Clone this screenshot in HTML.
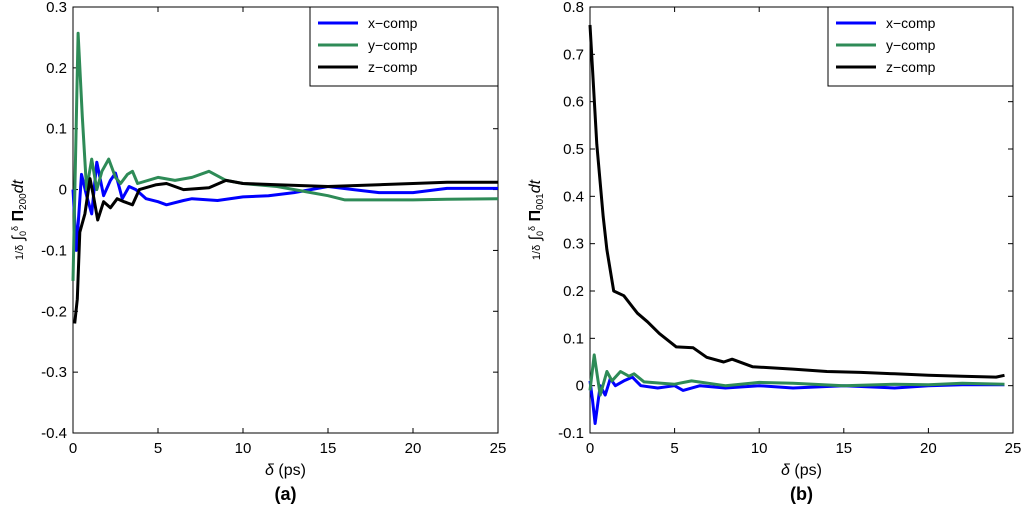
<!DOCTYPE html>
<html><head><meta charset="utf-8"><style>
body{margin:0;background:#fff;}
svg text{font-family:"Liberation Sans",sans-serif;}
</style></head><body>
<svg id="chart" width="1024" height="520" xmlns="http://www.w3.org/2000/svg"></svg>
<script>
const xTicks=[0,5,10,15,20,25];
const yTicksA=[-0.4,-0.3,-0.2,-0.1,0,0.1,0.2,0.3];
const yTicksB=[-0.1,0,0.1,0.2,0.3,0.4,0.5,0.6,0.7,0.8];
const seriesNames=["x\u2212comp","y\u2212comp","z\u2212comp"];
const colors=["#0000ff","#2e8b57","#000000"];
const aXx=[0,0.2,0.5,0.8,1.1,1.4,1.8,2.2,2.5,2.9,3.3,3.7,4.3,5,5.5,6.5,7,8.5,10,11.5,13,15,16.5,18,20,22,25];
const aXy=[0,-0.1,0.025,-0.01,-0.04,0.045,-0.01,0.015,0.027,-0.015,0.005,0,-0.015,-0.02,-0.025,-0.018,-0.015,-0.018,-0.012,-0.01,-0.005,0.005,0,-0.005,-0.005,0.002,0.002];
const aYx=[0,0.3,0.55,0.8,1.1,1.4,1.7,2.1,2.5,2.8,3.2,3.5,3.8,5,6,7,8,9,10,12,14,15,16,18,20,22,25];
const aYy=[-0.15,0.257,0.12,0,0.05,0,0.03,0.05,0.02,0.01,0.025,0.03,0.01,0.02,0.015,0.02,0.03,0.015,0.01,0.005,-0.005,-0.01,-0.017,-0.017,-0.017,-0.016,-0.015];
const aZx=[0.1,0.25,0.4,0.7,1.0,1.2,1.45,1.8,2.2,2.6,3,3.5,3.9,4.9,5.5,6.5,8,9,10,12,15,18,20,22,25];
const aZy=[-0.22,-0.18,-0.07,-0.04,0.018,-0.01,-0.05,-0.02,-0.03,-0.015,-0.02,-0.025,0,0.008,0.01,0,0.003,0.015,0.01,0.008,0.005,0.008,0.01,0.012,0.012];
const bXx=[0,0.15,0.3,0.6,0.9,1.2,1.5,2,2.5,3,4,5,5.5,6.5,8,10,12,15,18,20,22,24.5];
const bXy=[0.01,-0.03,-0.08,0,-0.02,0.015,0,0.01,0.018,0,-0.005,0,-0.01,0,-0.005,0,-0.005,0,-0.005,0,0.002,0.002];
const bYx=[0,0.25,0.6,1.0,1.3,1.8,2.3,2.6,3.2,5,6,8,10,12,15,18,20,22,24.5];
const bYy=[-0.01,0.065,-0.02,0.03,0.01,0.03,0.02,0.025,0.008,0.003,0.01,0,0.007,0.005,0,0.003,0.002,0.005,0.003];
const bZx=[0,0.4,0.78,1.0,1.4,2.0,2.8,3.4,4.1,5.1,6.1,6.9,7.9,8.4,9.6,12,14,16,18,20,22,24,24.5];
const bZy=[0.762,0.51,0.357,0.287,0.2,0.19,0.153,0.135,0.11,0.082,0.08,0.06,0.05,0.056,0.04,0.035,0.03,0.028,0.025,0.022,0.02,0.018,0.022];

const NS="http://www.w3.org/2000/svg";
const svg=document.getElementById('chart');
function el(t,a,p){const e=document.createElementNS(NS,t);for(const k in a)e.setAttribute(k,a[k]);(p||svg).appendChild(e);return e;}
function panel(id,x0,x1,yTop,yBot,ymin,ymax,yTicks,series,sub,lx,lbl){
  const g=el('g',{});
  
  
  const sx=v=>x0+(v-0)/25*(x1-x0);
  const sy=v=>yBot-(v-ymin)/(ymax-ymin)*(yBot-yTop);
  const fr=el('rect',{x:x0,y:yTop,width:x1-x0,height:yBot-yTop,fill:'#fff',stroke:'#000','stroke-width':1},g);
  
  
  xTicks.forEach(t=>{const X=sx(t);
    el('line',{x1:X,x2:X,y1:yBot,y2:yBot-5,stroke:'#000'},g);
    el('line',{x1:X,x2:X,y1:yTop,y2:yTop+5,stroke:'#000'},g);
    const tx=el('text',{x:X,y:yBot+20,'font-size':15,'text-anchor':'middle'},g);tx.textContent=t;
    
    });
  yTicks.forEach(t=>{const Y=sy(t);
    el('line',{x1:x0,x2:x0+5,y1:Y,y2:Y,stroke:'#000'},g);
    el('line',{x1:x1,x2:x1-5,y1:Y,y2:Y,stroke:'#000'},g);
    const tx=el('text',{x:x0-6,y:Y+5,'font-size':15,'text-anchor':'end'},g);tx.textContent=(Math.round(t*10)/10).toString();
    
    });
  series.forEach((s,i)=>{
    const d=s[0].map((v,j)=>(j?'L':'M')+sx(v).toFixed(1)+' '+sy(s[1][j]).toFixed(1)).join(' ');
    const p=el('path',{d:d,fill:'none',stroke:colors[i],'stroke-width':3,'stroke-linejoin':'round'},g);
    
    
  });
  const lg=el('g',{},g);
  
  
  el('rect',{x:lx,y:yTop,width:x1-lx,height:79,fill:'#fff',stroke:'#000'},lg);
  seriesNames.forEach((n,i)=>{const Y=yTop+16+i*22;
    el('line',{x1:lx+8,x2:lx+48,y1:Y,y2:Y,stroke:colors[i],'stroke-width':3},lg);
    const t=el('text',{x:lx+58,y:Y+5,'font-size':14},lg);t.textContent=n;
    
    });
  const xl=el('text',{x:(x0+x1)/2,y:yBot+42,'font-size':16,'text-anchor':'middle','font-family':'Liberation Serif'},g);
  xl.innerHTML='<tspan font-style="italic">δ</tspan> (ps)';
  
  
  const yl=el('text',{transform:`translate(${x0-50},${(yTop+yBot)/2}) rotate(-90)`,'font-size':16,'text-anchor':'middle','font-family':'Liberation Serif'},g);
  yl.innerHTML='<tspan font-size="11">1/δ</tspan> <tspan font-style="italic">∫</tspan><tspan font-size="9" dy="3">0</tspan><tspan font-size="9" dy="-8">δ</tspan><tspan dy="5" font-weight="bold"> Π</tspan><tspan font-size="10" dy="3">'+lbl+'</tspan><tspan dy="-3" font-style="italic">dt</tspan>';
  
  
  const st=el('text',{x:(x0+x1)/2,y:500,'font-size':18,'font-weight':'bold','text-anchor':'middle','font-family':'Liberation Serif'},g);
  st.textContent=sub;
  
  
}
panel('panel-a',73,498,7,433,-0.4,0.3,yTicksA,[[aXx,aXy],[aYx,aYy],[aZx,aZy]],'(a)',310,'200');
panel('panel-b',590,1013,7,433,-0.1,0.8,yTicksB,[[bXx,bXy],[bYx,bYy],[bZx,bZy]],'(b)',828,'001');
</script>
</body></html>
